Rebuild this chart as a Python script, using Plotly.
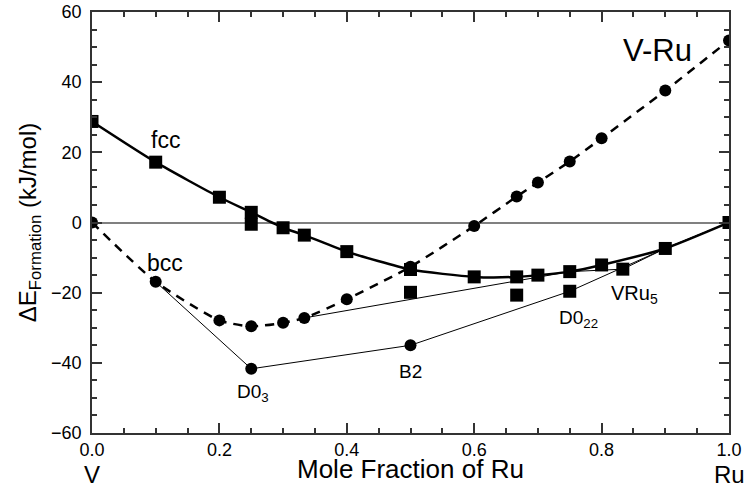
import plotly.graph_objects as go

# fcc (squares, thick solid curve)
fcc_x = [0.0, 0.1, 0.2, 0.25, 0.3, 0.3333, 0.4, 0.5, 0.6, 0.6667, 0.7, 0.75, 0.8, 0.9, 1.0]
fcc_y = [28.8, 17.2, 7.2, 2.9, -1.5, -3.6, -8.3, -13.4, -15.5, -15.5, -15.0, -14.0, -12.1, -7.4, 0.0]

# extra squares off the fcc curve
sq_x = [0.25, 0.5, 0.6667, 0.75, 0.8333]
sq_y = [-0.5, -19.9, -20.7, -19.6, -13.3]

# bcc (circles, dashed curve)
bcc_x = [0.0, 0.1, 0.2, 0.25, 0.3, 0.3333, 0.4, 0.5, 0.6, 0.6667, 0.7, 0.75, 0.8, 0.9, 1.0]
bcc_y = [0.0, -16.9, -27.9, -29.6, -28.6, -27.2, -21.9, -12.6, -1.0, 7.4, 11.4, 17.4, 24.0, 37.6, 51.9]

# ordered bcc-based compounds (circles)
ord_x = [0.25, 0.5]
ord_y = [-41.7, -35.0]

# thin tie lines
low_x = [0.1, 0.25, 0.5, 0.75, 0.9, 1.0]
low_y = [-16.9, -41.7, -35.0, -19.6, -7.4, 0.0]
up_x = [0.3333, 0.75, 0.8333, 0.9, 1.0]
up_y = [-27.2, -14.0, -13.3, -7.4, 0.0]

labels = [
    ("fcc", 0.115, 23.4, 23),
    ("bcc", 0.115, -11.5, 23),
    ("V-Ru", 0.887, 49.0, 31),
    ("D0<sub>3</sub>", 0.252, -48.5, 19),
    ("B2", 0.5, -42.5, 19),
    ("D0<sub>22</sub>", 0.764, -27.6, 19),
    ("VRu<sub>5</sub>", 0.852, -20.6, 20),
]

FONT = "Liberation Sans, Arial, sans-serif"
AX = "#333333"

fig = go.Figure()
fig.add_trace(go.Scatter(x=low_x, y=low_y, mode="lines",
                         line=dict(color="black", width=1), showlegend=False))
fig.add_trace(go.Scatter(x=up_x, y=up_y, mode="lines",
                         line=dict(color="black", width=1), showlegend=False))
fig.add_trace(go.Scatter(x=bcc_x, y=bcc_y, mode="lines+markers",
                         line=dict(color="black", width=2.5, dash="9px,7px", shape="spline", smoothing=0.6),
                         marker=dict(symbol="circle", size=12, color="black"),
                         showlegend=False))
fig.add_trace(go.Scatter(x=fcc_x, y=fcc_y, mode="lines+markers",
                         line=dict(color="black", width=2.5, shape="spline", smoothing=0.6),
                         marker=dict(symbol="square", size=13, color="black"),
                         showlegend=False))
fig.add_trace(go.Scatter(x=sq_x, y=sq_y, mode="markers",
                         marker=dict(symbol="square", size=13, color="black"),
                         showlegend=False))
fig.add_trace(go.Scatter(x=ord_x, y=ord_y, mode="markers",
                         marker=dict(symbol="circle", size=12, color="black"),
                         showlegend=False))

for txt, lx, ly, fs in labels:
    fig.add_annotation(x=lx, y=ly, text=txt, showarrow=False,
                       font=dict(family=FONT, size=fs, color="black"))

fig.add_annotation(x=0.0, xref="x", y=-0.099, yref="paper", text="V", showarrow=False,
                   font=dict(family=FONT, size=24, color="black"), yanchor="middle")
fig.add_annotation(x=1.0, xref="x", y=-0.099, yref="paper", text="Ru", showarrow=False,
                   font=dict(family=FONT, size=24, color="black"), yanchor="middle")
fig.add_annotation(x=0.5, xref="paper", y=-0.085, yref="paper", text="Mole Fraction of Ru",
                   showarrow=False, font=dict(family=FONT, size=26, color="black"), yanchor="middle")

fig.update_xaxes(range=[0, 1], dtick=0.2, tickformat=".1f",
                 ticks="inside", ticklen=10, tickwidth=2, tickcolor=AX,
                 showline=True, linecolor=AX, linewidth=1.5, mirror="ticks",
                 minor=dict(ticks="inside", ticklen=5, tickwidth=1.5, tickcolor=AX, dtick=0.05),
                 showgrid=False, zeroline=False, automargin=False,
                 tickfont=dict(family=FONT, size=18, color="black"))
fig.update_yaxes(range=[-60, 60], dtick=20, ticksuffix="\u00a0",
                 ticks="inside", ticklen=10, tickwidth=2, tickcolor=AX,
                 showline=True, linecolor=AX, linewidth=1.5, mirror="ticks",
                 minor=dict(ticks="inside", ticklen=5, tickwidth=1.5, tickcolor=AX, dtick=5),
                 showgrid=False, zeroline=True, zerolinecolor="#808080", zerolinewidth=1.5, automargin=False,
                 tickfont=dict(family=FONT, size=18, color="black"),
                 title=dict(text="ΔE<sub>Formation</sub> (kJ/mol)", font=dict(family=FONT, size=24, color="black"), standoff=8))

fig.update_layout(width=750, height=496, margin=dict(l=92, r=21, t=12, b=63),
                  plot_bgcolor="white", paper_bgcolor="white",
                  font=dict(family=FONT, color="black"))

fig.write_html("out.html")
